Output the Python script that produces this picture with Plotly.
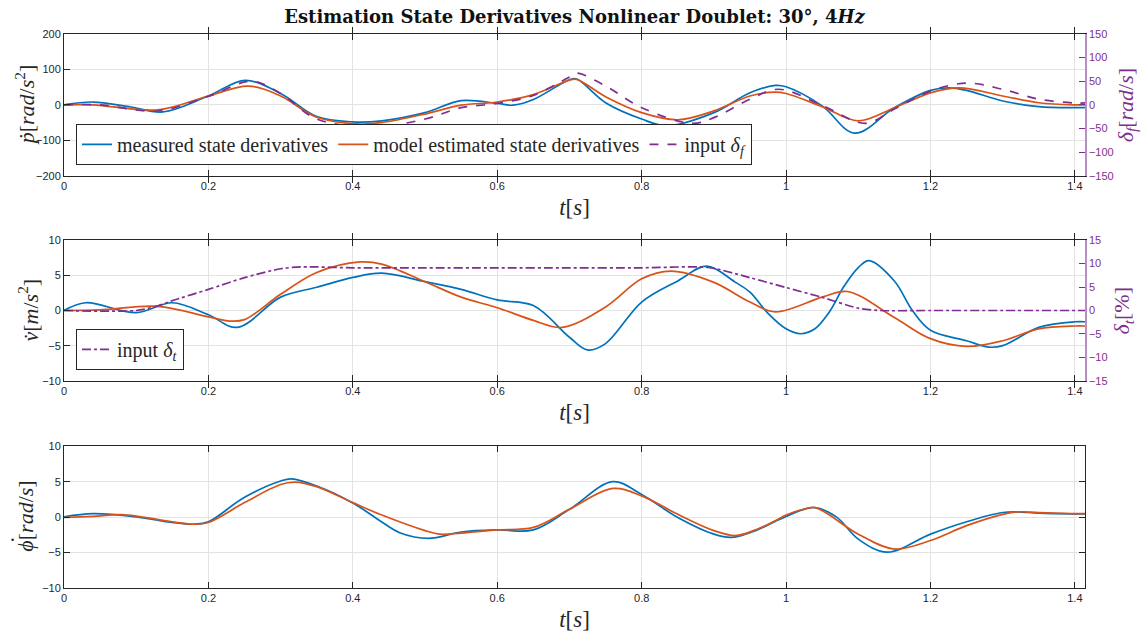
import plotly.graph_objects as go

# ---- roll acceleration p-dot [rad/s^2] and aileron input delta_f [rad/s] ----
p_t_meas = [0, 0.04, 0.09, 0.137, 0.2, 0.251, 0.3, 0.35, 0.4, 0.44, 0.5, 0.55, 0.6, 0.622,
            0.65, 0.7, 0.71, 0.75, 0.8, 0.835, 0.9, 0.95, 0.985, 1.0, 1.05, 1.095, 1.15,
            1.2, 1.225, 1.25, 1.3, 1.35, 1.4, 1.414]
p_meas = [0, 8, -5, -20, 25, 69, 32, -33, -48, -45, -22, 12, 4, -1,
          15, 71, 73, 6, -40, -59, -22, 34, 55, 51, -3, -80, -8,
          41, 48, 41, 11, -5, -8, -8]

p_t_model = [0, 0.04, 0.13, 0.2, 0.255, 0.3, 0.35, 0.41, 0.44, 0.5, 0.55, 0.6, 0.65, 0.7,
             0.71, 0.75, 0.8, 0.85, 0.9, 0.95, 0.985, 1.0, 1.05, 1.1, 1.15, 1.2, 1.24,
             1.3, 1.35, 1.4, 1.414]
p_model = [0, 0, -14, 25, 53, 25, -35, -54, -50, -26, -1, 8, 29, 70,
           72, 23, -22, -42, -17, 25, 36, 32, -5, -45, -8, 34, 48,
           25, 6, 0, 0]

df_t = [0, 0.05, 0.13, 0.2, 0.26, 0.3, 0.35, 0.43, 0.5, 0.55, 0.6, 0.65, 0.7, 0.71, 0.75,
        0.8, 0.87, 0.9, 0.95, 0.99, 1.05, 1.11, 1.15, 1.2, 1.25, 1.3, 1.35, 1.4, 1.414]
df_in = [0, 0, -13, 18, 50, 24, -30, -46, -30, -6, 3, 20, 59, 67, 40,
         -6, -39, -27, 12, 33, -1, -39, -9, 29, 46, 33, 12, 4, 4]

# ---- lateral acceleration v-dot [m/s^2] and throttle input delta_t [%] ----
v_t_meas = [0, 0.03, 0.1, 0.15, 0.2, 0.24, 0.3, 0.35, 0.4, 0.44, 0.5, 0.55, 0.6, 0.65,
            0.7, 0.725, 0.75, 0.8, 0.85, 0.89, 0.93, 0.95, 0.975, 1.0, 1.02, 1.04, 1.06,
            1.08, 1.1, 1.115, 1.15, 1.175, 1.2, 1.25, 1.28, 1.3, 1.35, 1.4, 1.414]
v_meas = [0, 1.1, -0.3, 1.1, -0.6, -2.4, 1.9, 3.3, 4.7, 5.3, 4.1, 3.0, 1.5, 0.7,
          -3.8, -5.6, -4.7, 1.2, 4.2, 6.3, 4.0, 2.6, -0.4, -2.6, -3.3, -2.6, -0.2,
          3.4, 6.1, 7.1, 4.2, 0, -2.8, -4.3, -5.2, -5.0, -2.4, -1.6, -1.6]

v_t_model = [0, 0.05, 0.13, 0.2, 0.23, 0.25, 0.3, 0.35, 0.41, 0.44, 0.5, 0.55, 0.6, 0.65,
             0.69, 0.75, 0.8, 0.84, 0.9, 0.95, 0.985, 1.05, 1.085, 1.15, 1.2, 1.25, 1.3,
             1.35, 1.4, 1.414]
v_model = [0, 0.1, 0.6, -0.9, -1.5, -1.3, 2.3, 5.4, 6.9, 6.6, 4.1, 1.9, 0.4, -1.4,
           -2.4, 0.5, 4.5, 5.6, 4.0, 1.2, -0.2, 1.9, 2.7, -1.0, -4.0, -5.1, -4.3,
           -2.6, -2.2, -2.2]

dt_t = [0, 0.1, 0.13, 0.15, 0.2, 0.25, 0.3, 0.33, 0.4, 0.5, 0.6, 0.7, 0.8, 0.88, 0.9,
        0.95, 1.0, 1.05, 1.1, 1.13, 1.2, 1.3, 1.414]
dt_in = [0, 0, 1.0, 2.1, 4.5, 7.0, 8.9, 9.3, 9.1, 9.1, 9.1, 9.1, 9.1, 9.3, 9.0,
         7.0, 4.9, 2.8, 0.5, 0, 0, 0, 0]

# ---- roll rate phi-dot [rad/s] ----
r_t_meas = [0, 0.04, 0.1, 0.15, 0.18, 0.2, 0.25, 0.3, 0.315, 0.35, 0.4, 0.4375, 0.465,
            0.505, 0.55, 0.6, 0.65, 0.7, 0.76, 0.8, 0.85, 0.9, 0.925, 0.96, 0.985, 1.0,
            1.02, 1.04, 1.07, 1.1, 1.14, 1.2, 1.25, 1.3, 1.32, 1.35, 1.4, 1.414]
r_meas = [0.05, 0.5, 0.05, -0.75, -1.0, -0.65, 2.8, 5.1, 5.4, 4.4, 2.0, -0.5, -2.2,
          -3.0, -2.1, -1.8, -1.8, 1.1, 5.0, 3.2, -0.05, -2.4, -2.85, -1.8, -0.6, 0.1,
          0.95, 1.35, 0.0, -3.1, -4.95, -2.4, -0.65, 0.65, 0.75, 0.55, 0.45, 0.45]

r_t_model = [0, 0.04, 0.08, 0.15, 0.18, 0.2, 0.25, 0.3, 0.32, 0.35, 0.4, 0.4375, 0.5,
             0.52, 0.55, 0.6, 0.65, 0.7, 0.76, 0.8, 0.85, 0.9, 0.93, 0.96, 0.985, 1.0,
             1.02, 1.04, 1.1, 1.15, 1.2, 1.25, 1.3, 1.32, 1.35, 1.4, 1.414]
r_model = [-0.05, 0.1, 0.35, -0.65, -1.0, -0.75, 2.05, 4.6, 4.95, 4.3, 2.05, 0.4, -1.9,
           -2.4, -2.25, -1.8, -1.45, 1.1, 4.05, 3.0, 0.4, -1.9, -2.6, -1.7, -0.5, 0.3,
           1.0, 1.35, -2.4, -4.5, -3.3, -1.2, 0.4, 0.75, 0.65, 0.5, 0.5]

BLUE = "#0072BD"
ORANGE = "#D95319"
PURPLE = "#7E2F8E"
AXC = "#262626"
GRID = "#e3e3e3"
SERIF = "Liberation Serif, Times New Roman, serif"
SANS = "Liberation Sans, Arial, sans-serif"
LW = 1.7
W, H = 1148, 639
ML, MR, MT, MB = 64, 63, 34, 46

fig = go.Figure()

# panel 1
fig.add_trace(go.Scatter(x=p_t_meas, y=p_meas, mode="lines", name="measured state derivatives",
                         line=dict(color=BLUE, width=LW, shape="spline", smoothing=1),
                         xaxis="x", yaxis="y", legend="legend"))
fig.add_trace(go.Scatter(x=p_t_model, y=p_model, mode="lines", name="model estimated state derivatives",
                         line=dict(color=ORANGE, width=LW, shape="spline", smoothing=1),
                         xaxis="x", yaxis="y", legend="legend"))
fig.add_trace(go.Scatter(x=df_t, y=df_in, mode="lines", name="input <i>δ</i><sub><i>f</i></sub>",
                         line=dict(color=PURPLE, width=LW, dash="dash", shape="spline", smoothing=1),
                         xaxis="x", yaxis="y2", legend="legend"))

# panel 2
fig.add_trace(go.Scatter(x=v_t_meas, y=v_meas, mode="lines", showlegend=False,
                         line=dict(color=BLUE, width=LW, shape="spline", smoothing=1),
                         xaxis="x2", yaxis="y3"))
fig.add_trace(go.Scatter(x=v_t_model, y=v_model, mode="lines", showlegend=False,
                         line=dict(color=ORANGE, width=LW, shape="spline", smoothing=1),
                         xaxis="x2", yaxis="y3"))
fig.add_trace(go.Scatter(x=dt_t, y=dt_in, mode="lines", name="input <i>δ</i><sub><i>t</i></sub>",
                         line=dict(color=PURPLE, width=LW, dash="dashdot", shape="spline", smoothing=0.8),
                         xaxis="x2", yaxis="y4", legend="legend2"))

# panel 3
fig.add_trace(go.Scatter(x=r_t_meas, y=r_meas, mode="lines", showlegend=False,
                         line=dict(color=BLUE, width=LW, shape="spline", smoothing=1),
                         xaxis="x3", yaxis="y5"))
fig.add_trace(go.Scatter(x=r_t_model, y=r_model, mode="lines", showlegend=False,
                         line=dict(color=ORANGE, width=LW, shape="spline", smoothing=1),
                         xaxis="x3", yaxis="y5"))

tick_font = dict(family=SANS, size=11, color=AXC)
x_title = dict(text="<i>t</i>[<i>s</i>]", font=dict(family=SERIF, size=23, color=AXC), standoff=7)


def xax(anchor):
    return dict(domain=[0, 1], anchor=anchor, range=[0, 1.414], tickvals=[0, 0.2, 0.4, 0.6, 0.8, 1, 1.2, 1.4],
                ticktext=["0", "0.2", "0.4", "0.6", "0.8", "1", "1.2", "1.4"],
                ticks="inside", ticklen=6, tickcolor=AXC, showline=True, linecolor=AXC, linewidth=1,
                mirror="allticks", showgrid=True, gridcolor=GRID, zeroline=False,
                tickfont=tick_font, title=x_title)


def yleft(dom, rng, vals, anchor, mirror):
    return dict(domain=dom, anchor=anchor, range=rng, tickvals=vals, ticks="inside", ticklen=6,
                tickcolor=AXC, showline=True, linecolor=AXC, linewidth=1, mirror=mirror,
                showgrid=True, gridcolor=GRID, zeroline=False, tickfont=tick_font)


def yright(over, rng, vals, anchor):
    return dict(overlaying=over, anchor=anchor, side="right", range=rng, tickvals=vals, ticks="inside",
                ticklen=6, tickcolor=PURPLE, showline=True, linecolor="rgba(126,47,142,0.55)",
                linewidth=1.5, showgrid=False, zeroline=False,
                tickfont=dict(family=SANS, size=11, color=PURPLE))


# axis labels placed at fixed pixel positions (converted to paper coords)
def px(x):
    return (x - ML) / (W - ML - MR)


def py(y):
    return (H - MB - y) / (H - MT - MB)


ylabels = [
    ("<i>ṗ</i>[<i>rad</i>/<i>s</i><sup>2</sup>]", 25, 106, AXC),
    ("<i>v̇</i>[<i>m</i>/<i>s</i><sup>2</sup>]", 28, 313, AXC),
    ("<i>ϕ</i>[<i>rad</i>/<i>s</i>]", 26, 521, AXC),
    ("<i>δ</i><sub><i>f</i></sub>[<i>rad</i>/<i>s</i>]", 1127, 106, PURPLE),
    ("<i>δ</i><sub><i>t</i></sub>[%]", 1123, 313, PURPLE),
]
annotations = [
    dict(text=t, x=px(x), y=py(y), xref="paper", yref="paper", xanchor="center", yanchor="middle",
         textangle=-90, showarrow=False, font=dict(family=SERIF, size=22, color=c))
    for t, x, y, c in ylabels
]
# time-derivative dot over the phi of the third label
annotations.append(dict(text="•", x=px(12), y=py(545), xref="paper", yref="paper",
                        xanchor="center", yanchor="middle", showarrow=False,
                        font=dict(family=SANS, size=9, color=AXC)))

legend_common = dict(xref="paper", yref="paper", xanchor="left", yanchor="bottom",
                     bgcolor="white", bordercolor=AXC, borderwidth=1,
                     font=dict(family=SERIF, size=20, color=AXC), itemwidth=30,
                     tracegroupgap=0)

fig.update_layout(
    width=W, height=H,
    margin=dict(l=ML, r=MR, t=MT, b=MB),
    paper_bgcolor="white", plot_bgcolor="white",
    title=dict(text="<b>Estimation State Derivatives Nonlinear Doublet: 30°, 4<i>Hz</i></b>",
               x=0.5, xanchor="center", xref="paper", y=1 - 17 / H, yanchor="middle", yref="container",
               font=dict(family="DejaVu Serif, serif", size=18, color="#111111")),
    xaxis=xax("y"), xaxis2=xax("y3"), xaxis3=xax("y5"),
    yaxis=yleft([py(177), py(34)], [-200, 200], [-200, -100, 0, 100, 200], "x", False),
    yaxis2=yright("y", [-150, 150], [-150, -100, -50, 0, 50, 100, 150], "x"),
    yaxis3=yleft([py(384), py(242)], [-10, 10], [-10, -5, 0, 5, 10], "x2", False),
    yaxis4=yright("y3", [-15, 15], [-15, -10, -5, 0, 5, 10, 15], "x2"),
    yaxis5=yleft([0, py(450)], [-10, 10], [-10, -5, 0, 5, 10], "x3", "allticks"),
    legend=dict(x=px(76), y=py(166), orientation="h", **legend_common),
    legend2=dict(x=px(76), y=py(373), orientation="h", **legend_common),
    annotations=annotations,
)

fig.write_html("out.html")
